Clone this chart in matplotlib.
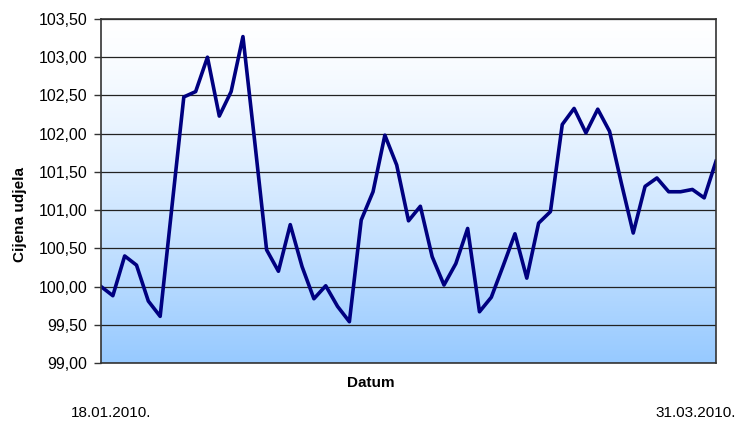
# Cijena udjela, 18.01.2010. - 31.03.2010.

import matplotlib
matplotlib.use('Agg')
import matplotlib.pyplot as plt
from matplotlib.ticker import FuncFormatter
import numpy as np

plt.rcParams['font.family'] = ['Liberation Sans', 'DejaVu Sans']

# Data (one value per trading day)
prices = [
    100.00, 99.88, 100.40, 100.28, 99.81, 99.61, 101.05, 102.48, 102.55, 103.00,
    102.23, 102.55, 103.27, 101.89, 100.48, 100.20, 100.81, 100.26, 99.84, 100.01,
    99.74, 99.54, 100.87, 101.24, 101.98, 101.59, 100.86, 101.05, 100.39, 100.02,
    100.30, 100.76, 99.67, 99.86, 100.27, 100.69, 100.11, 100.83, 100.98, 102.12,
    102.33, 102.01, 102.32, 102.03, 101.35, 100.70, 101.31, 101.42, 101.24, 101.24,
    101.27, 101.16, 101.64,
]
start_label = '18.01.2010.'
end_label = '31.03.2010.'
y_ticks = [99.0, 99.5, 100.0, 100.5, 101.0, 101.5, 102.0, 102.5, 103.0, 103.5]

days = np.arange(len(prices))

fig = plt.figure(figsize=(7.39, 4.21), dpi=100)
ax = fig.add_axes([0.1367, 0.1378, 0.8322, 0.8171])

# Gradient background: white at top to light blue at bottom
top = np.array([1.0, 1.0, 1.0])
bottom = np.array([0.59, 0.79, 1.0])
t = np.linspace(0, 1, 256)[:, None] ** 1.35
grad = (top * (1 - t) + bottom * t)[:, None, :]
ax.imshow(grad, extent=[0, 1, 0, 1], transform=ax.transAxes,
          aspect='auto', zorder=0)

ax.plot(days, prices, color='#000080', linewidth=2.6, zorder=3)

ax.set_xlim(0, len(prices) - 1)
ax.set_ylim(99, 103.5)
ax.set_yticks(y_ticks)
ax.yaxis.set_major_formatter(FuncFormatter(lambda v, p: f'{v:.2f}'.replace('.', ',')))
ax.set_xticks([])
ax.tick_params(axis='y', direction='out', length=5, width=1, color='#333333',
               labelsize=11.5, pad=5)
ax.grid(axis='y', color='#222222', linewidth=0.9, zorder=1)
ax.set_axisbelow(True)
for s in ax.spines.values():
    s.set_color('#333333')
    s.set_linewidth(1.2)
    s.set_zorder(4)

fig.text(20 / 739, 1 - 214 / 421, 'Cijena udjela', rotation=90, fontsize=11,
         fontweight='bold', ha='center', va='center')
fig.text(371 / 739, 1 - 383 / 421, 'Datum', fontsize=11, fontweight='bold',
         ha='center', va='center')
fig.text(111 / 739, 1 - 413 / 421, start_label, fontsize=11, ha='center', va='center')
fig.text(696 / 739, 1 - 413 / 421, end_label, fontsize=11, ha='center', va='center')

fig.savefig('out.png', dpi=100)
